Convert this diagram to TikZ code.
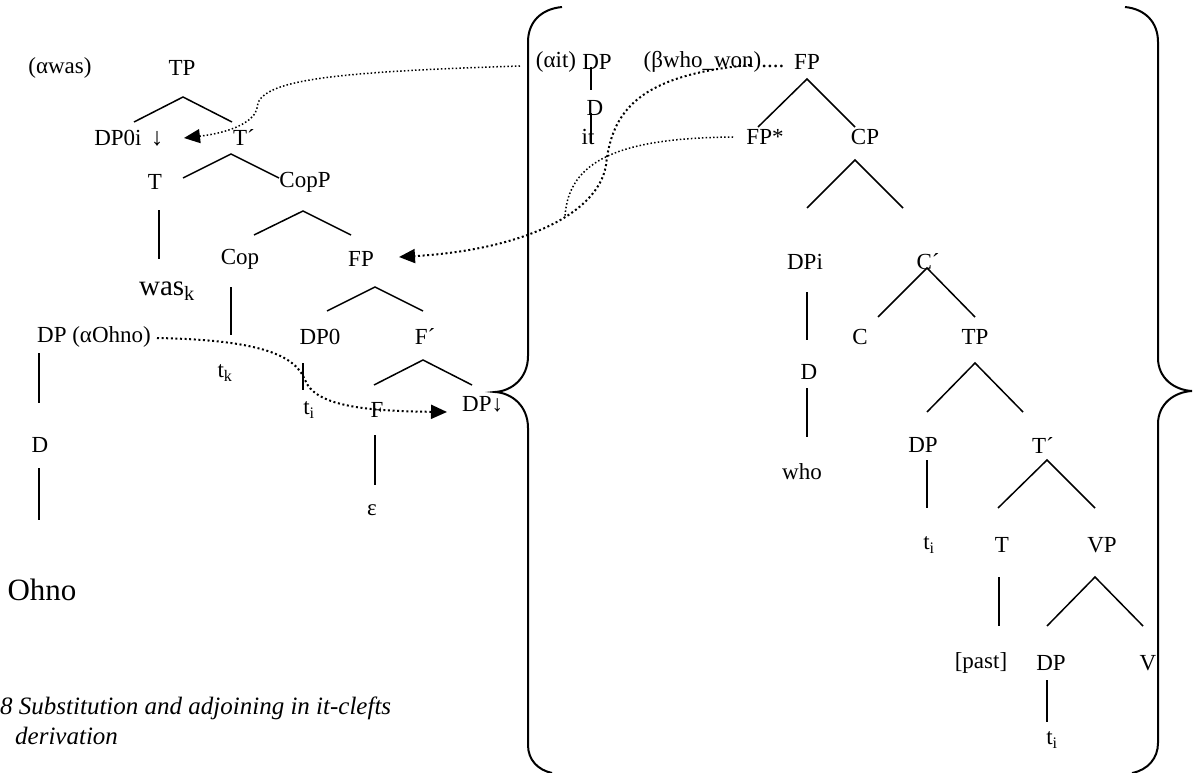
\documentclass[tikz,border=0pt]{standalone}
\usepackage{fontspec}
\setmainfont{Liberation Serif}
\usetikzlibrary{arrows.meta}
\begin{document}
\begin{tikzpicture}[x=1pt,y=-1pt,
  lbl/.style={inner sep=0pt,anchor=center,font=\fontsize{23}{25}\selectfont},
  biglbl/.style={inner sep=0pt,anchor=center,font=\fontsize{29}{32}\selectfont},
  capt/.style={inner sep=0pt,anchor=base west,font=\fontsize{25}{27}\selectfont\itshape},
  branch/.style={line width=1.5pt},
  bracket/.style={line width=2pt},
  thickdots/.style={line width=2pt,dash pattern=on 2pt off 2.6pt},
  thindots/.style={line width=1.5pt,dash pattern=on 1.5pt off 2.2pt},
  tip/.style={-{Triangle[length=16pt,width=14pt]}},
]
\useasboundingbox (0,0) rectangle (1194,773);

% ---------- alpha-was tree ----------
\node[lbl] (aw)    at (60,68)  {(αwas)};
\node[lbl] (tp)    at (182,68) {TP};
\node[lbl] (dp0i)  at (118,138) {DP0i};
\node[lbl,font=\fontsize{25}{27}\selectfont] (dp0ia) at (157,139) {↓};
\node[lbl] (tbar)  at (244,138) {T´};
\node[lbl] (t1)    at (155,182) {T};
\node[lbl] (copp)  at (305,182) {CopP};
\node[biglbl] (was) at (167,291) {was\textsubscript{k}};
\node[lbl] (cop)   at (240,259) {Cop};
\node[lbl] (fp)    at (361,259) {FP};
\node[lbl] (dp0)   at (320,337) {DP0};
\node[lbl] (fbar)  at (425,337) {F´};
\node[lbl] (dpo)   at (94,337)  {DP (αOhno)};
\node[lbl] (tk)    at (225,373) {t\textsubscript{k}};
\node[lbl] (ti1)   at (309,410) {t\textsubscript{i}};
\node[lbl] (f)     at (377,410) {F};
\node[lbl,anchor=west] (dpd) at (462,404) {DP↓};
\node[lbl] (eps)   at (372,510) {ε};
\node[lbl] (d1)    at (40,445)  {D};
\node[biglbl,font=\fontsize{31}{34}\selectfont] (ohno) at (42,590) {Ohno};

% branches of the left tree
\coordinate (tpL) at (134,122); \coordinate (tpA) at (183,97);  \coordinate (tpR) at (232,122);
\coordinate (tbL) at (183,178); \coordinate (tbA) at (231,154); \coordinate (tbR) at (279,178);
\coordinate (cpL) at (254,235); \coordinate (cpA) at (303,211); \coordinate (cpR) at (351,235);
\coordinate (fpL) at (327,311); \coordinate (fpA) at (375,287); \coordinate (fpR) at (423,311);
\coordinate (fbL) at (374,385); \coordinate (fbA) at (423,360); \coordinate (fbR) at (472,385);
\draw[branch] (tpL) -- (tpA) -- (tpR);
\draw[branch] (tbL) -- (tbA) -- (tbR);
\draw[branch] (cpL) -- (cpA) -- (cpR);
\draw[branch] (fpL) -- (fpA) -- (fpR);
\draw[branch] (fbL) -- (fbA) -- (fbR);
% unary edges of the left tree
\coordinate (tT) at (159,210);  \coordinate (tB) at (159,259);
\coordinate (copT) at (231,287); \coordinate (copB) at (231,335);
\coordinate (dz0T) at (303,363); \coordinate (dz0B) at (303,390);
\coordinate (fT) at (375,435);  \coordinate (fB) at (375,485);
\coordinate (doT) at (39,353);  \coordinate (doB) at (39,403);
\coordinate (d1T) at (39,468);  \coordinate (d1B) at (39,520);
\draw[branch] (tT) -- (tB);
\draw[branch] (copT) -- (copB);
\draw[branch] (dz0T) -- (dz0B);
\draw[branch] (fT) -- (fB);
\draw[branch] (doT) -- (doB);
\draw[branch] (d1T) -- (d1B);

% ---------- elementary trees in braces ----------
\node[lbl] (ait)  at (556,62)  {(αit)};
\node[lbl] (dpit) at (597,62)  {DP};
\node[lbl] (dit)  at (595,108) {D};
\node[lbl] (it)   at (588,137) {it};
\coordinate (itA) at (591,67);  \coordinate (itB) at (591,90);
\coordinate (itC) at (591,113); \coordinate (itD) at (591,143);
\draw[branch] (itA) -- (itB);
\draw[branch] (itC) -- (itD);

\node[lbl] (bww)  at (714,62)  {(βwho\_won)....};
\node[lbl] (fp2)  at (807,62)  {FP};
\node[lbl] (fps)  at (765,137) {FP*};
\node[lbl] (cp)   at (865,137) {CP};
\node[lbl] (dpi)  at (805,262) {DPi};
\node[lbl] (cbar) at (928,262) {C´};
\node[lbl] (c)    at (860,337) {C};
\node[lbl] (tp2)  at (975,337) {TP};
\node[lbl] (d2)   at (809,372) {D};
\node[lbl] (who)  at (802,472) {who};
\node[lbl] (dp2)  at (923,445) {DP};
\node[lbl] (tbar2) at (1043,445) {T´};
\node[lbl] (ti2)  at (929,545) {t\textsubscript{i}};
\node[lbl] (t2)   at (1002,545) {T};
\node[lbl] (vp)   at (1102,545) {VP};
\node[lbl] (past) at (981,663) {[past]};
\node[lbl] (dp3)  at (1051,663) {DP};
\node[lbl] (v)    at (1148,663) {V};
\node[lbl] (ti3)  at (1052,740) {t\textsubscript{i}};

\coordinate (f2L) at (758,127); \coordinate (f2A) at (807,79);  \coordinate (f2R) at (855,127);
\coordinate (cpL2) at (807,208); \coordinate (cpA2) at (855,160); \coordinate (cpR2) at (903,208);
\coordinate (cbL) at (878,317); \coordinate (cbA) at (927,268); \coordinate (cbR) at (975,317);
\coordinate (t2L) at (927,412); \coordinate (t2A) at (975,363); \coordinate (t2R) at (1023,412);
\coordinate (tb2L) at (998,508); \coordinate (tb2A) at (1047,460); \coordinate (tb2R) at (1095,508);
\coordinate (vpL) at (1047,626); \coordinate (vpA) at (1095,577); \coordinate (vpR) at (1143,626);
\draw[branch] (f2L) -- (f2A) -- (f2R);
\draw[branch] (cpL2) -- (cpA2) -- (cpR2);
\draw[branch] (cbL) -- (cbA) -- (cbR);
\draw[branch] (t2L) -- (t2A) -- (t2R);
\draw[branch] (tb2L) -- (tb2A) -- (tb2R);
\draw[branch] (vpL) -- (vpA) -- (vpR);

\coordinate (dpiT) at (807,292); \coordinate (dpiB) at (807,340);
\coordinate (d2T) at (807,388);  \coordinate (d2B) at (807,437);
\coordinate (dp2T) at (927,460); \coordinate (dp2B) at (927,508);
\coordinate (t2T) at (999,577);  \coordinate (t2B) at (999,626);
\coordinate (dp3T) at (1047,680); \coordinate (dp3B) at (1047,722);
\draw[branch] (dpiT) -- (dpiB);
\draw[branch] (d2T) -- (d2B);
\draw[branch] (dp2T) -- (dp2B);
\draw[branch] (t2T) -- (t2B);
\draw[branch] (dp3T) -- (dp3B);

% ---------- braces ----------
\draw[bracket] (562,7) .. controls (541,9) and (528,22) .. (528,42) -- (528,356)
  .. controls (528,378) and (512,391) .. (495,392)
  .. controls (512,393) and (528,406) .. (528,428) -- (528,745)
  .. controls (528,760) and (538,770) .. (552,773);
\draw[bracket] (1125,7) .. controls (1145,9) and (1158,22) .. (1158,42) -- (1158,358)
  .. controls (1158,378) and (1174,390) .. (1192,391)
  .. controls (1174,392) and (1158,404) .. (1158,424) -- (1158,743)
  .. controls (1158,758) and (1148,770) .. (1132,773);

% ---------- substitution and adjunction links ----------
\coordinate (s1) at (520,66);  \coordinate (e1) at (184,138);
\coordinate (s2) at (750,65);  \coordinate (e2) at (399,257);
\coordinate (s3) at (733,137); \coordinate (e3) at (565,217);
\coordinate (s4) at (157,338); \coordinate (e4) at (447,412);
\draw[thindots,tip] (s1) .. controls (330,72) and (258,80) .. (257,108)
  .. controls (255,120) and (235,132) .. (e1);
\draw[thickdots,tip] (s2) .. controls (640,75) and (612,110) .. (606,165)
  .. controls (598,215) and (520,250) .. (e2);
\draw[thindots] (s3) .. controls (620,138) and (568,160) .. (e3);
\draw[thickdots,tip] (s4) .. controls (260,340) and (295,355) .. (305,380)
  .. controls (315,405) and (360,411) .. (e4);

% ---------- caption ----------
\node[capt] (cap1) at (0,714) {8 Substitution and adjoining in it-clefts};
\node[capt] (cap2) at (15,744) {derivation};
\end{tikzpicture}
\end{document}
